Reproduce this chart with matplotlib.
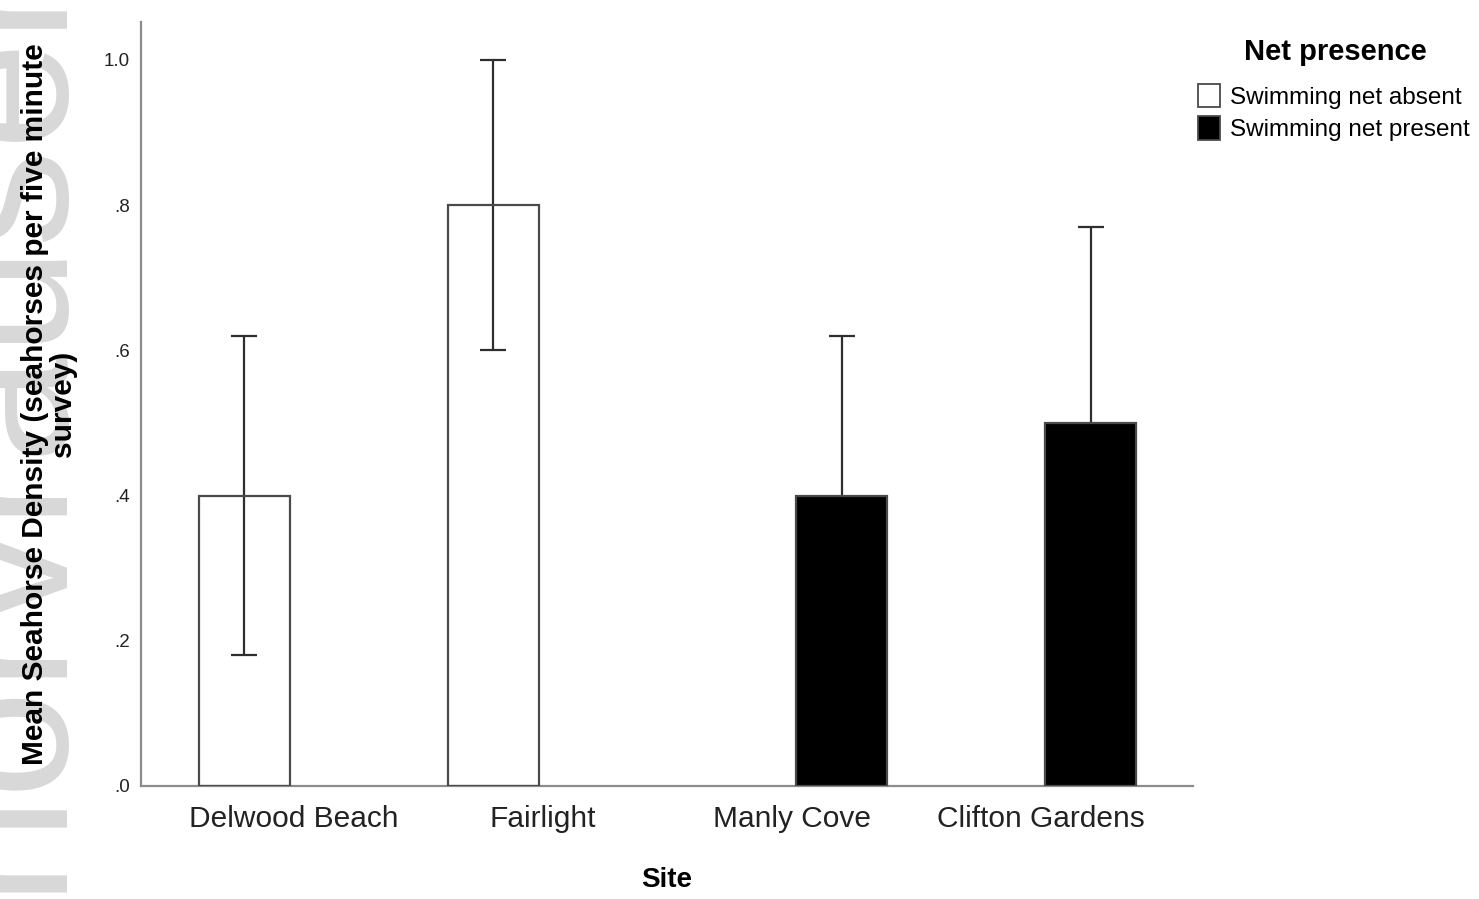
import matplotlib
matplotlib.use("Agg")
import matplotlib.pyplot as plt
import numpy as np

plt.rcParams['font.family'] = ['Liberation Sans', 'DejaVu Sans']

# mean seahorse density per site, with 95% CI
sites = ["Delwood Beach", "Fairlight", "Manly Cove", "Clifton Gardens"]
net_present = [False, False, True, True]
means = [0.4, 0.8, 0.4, 0.5]
ci_low = [0.18, 0.6, 0.18, 0.23]
ci_high = [0.62, 1.0, 0.62, 0.77]
group_labels = ["Swimming net absent", "Swimming net present"]
yticks = [0.0, 0.2, 0.4, 0.6, 0.8, 1.0]
ytick_labels = [".0", ".2", ".4", ".6", ".8", "1.0"]

EDGE = "#4a4a4a"
AXIS = "#8c8c8c"
BAR_W = 0.365
OFFSET = 0.2

fig = plt.figure(figsize=(14.79, 8.99), dpi=100)
ax = fig.add_axes([0.0953, 0.1257, 0.7113, 0.8498])

# faint watermark down the left edge
fig.text(0.064, 0.0067, "norvrauser", rotation=90, fontsize=140, color="#d8d8d8",
         ha="right", va="bottom", zorder=-5)

idx = np.arange(len(sites))
xpos = idx + np.where(net_present, OFFSET, -OFFSET)
faces = ["black" if p else "none" for p in net_present]

# whiskers go underneath so the filled bars hide their lower half
means_arr = np.array(means)
yerr = [means_arr - np.array(ci_low), np.array(ci_high) - means_arr]
ax.errorbar(xpos, means, yerr=yerr, fmt="none", ecolor="#2e2e2e", elinewidth=1.6,
            capsize=9.5, capthick=1.6, zorder=2)
ax.bar(xpos, means, width=BAR_W, color=faces, edgecolor=EDGE, linewidth=1.6, zorder=3)

ax.set_xlim(-0.614, 3.61)
ax.set_ylim(0, 1.052)
ax.set_yticks(yticks)
ax.set_yticklabels(ytick_labels, fontsize=13.5, color="#222222")
ax.set_xticks(idx)
ax.set_xticklabels(sites, fontsize=21.5, color="#222222")
ax.tick_params(axis="both", length=0)
ax.tick_params(axis="y", pad=8)
ax.tick_params(axis="x", pad=14)

for side in ["top", "right"]:
    ax.spines[side].set_visible(False)
for side in ["left", "bottom"]:
    ax.spines[side].set_color(AXIS)
    ax.spines[side].set_linewidth(1.6)

ax.set_xlabel("Site", fontsize=20, fontweight="bold", labelpad=24)
ax.set_ylabel("Mean Seahorse Density (seahorses per five minute\nsurvey)",
              fontsize=21.5, fontweight="bold", labelpad=19, linespacing=1.0)

# legend for the two net groups, title placed separately
fig.text(0.9027, 0.942, "Net presence", fontsize=21, fontweight="bold",
         ha="center", va="center")
handles = [plt.Rectangle((0, 0), 1, 1, facecolor="white", edgecolor=EDGE, linewidth=1.3),
           plt.Rectangle((0, 0), 1, 1, facecolor="black", edgecolor=EDGE, linewidth=1.3)]
fig.legend(handles, group_labels, loc="upper left",
           bbox_to_anchor=(1198 / 1479, 1 - 84 / 899), frameon=False, fontsize=17.5,
           handlelength=0.9, handleheight=1.1, handletextpad=0.4,
           labelspacing=0.3, borderpad=0, borderaxespad=0)

fig.savefig("out.png", dpi=100)
